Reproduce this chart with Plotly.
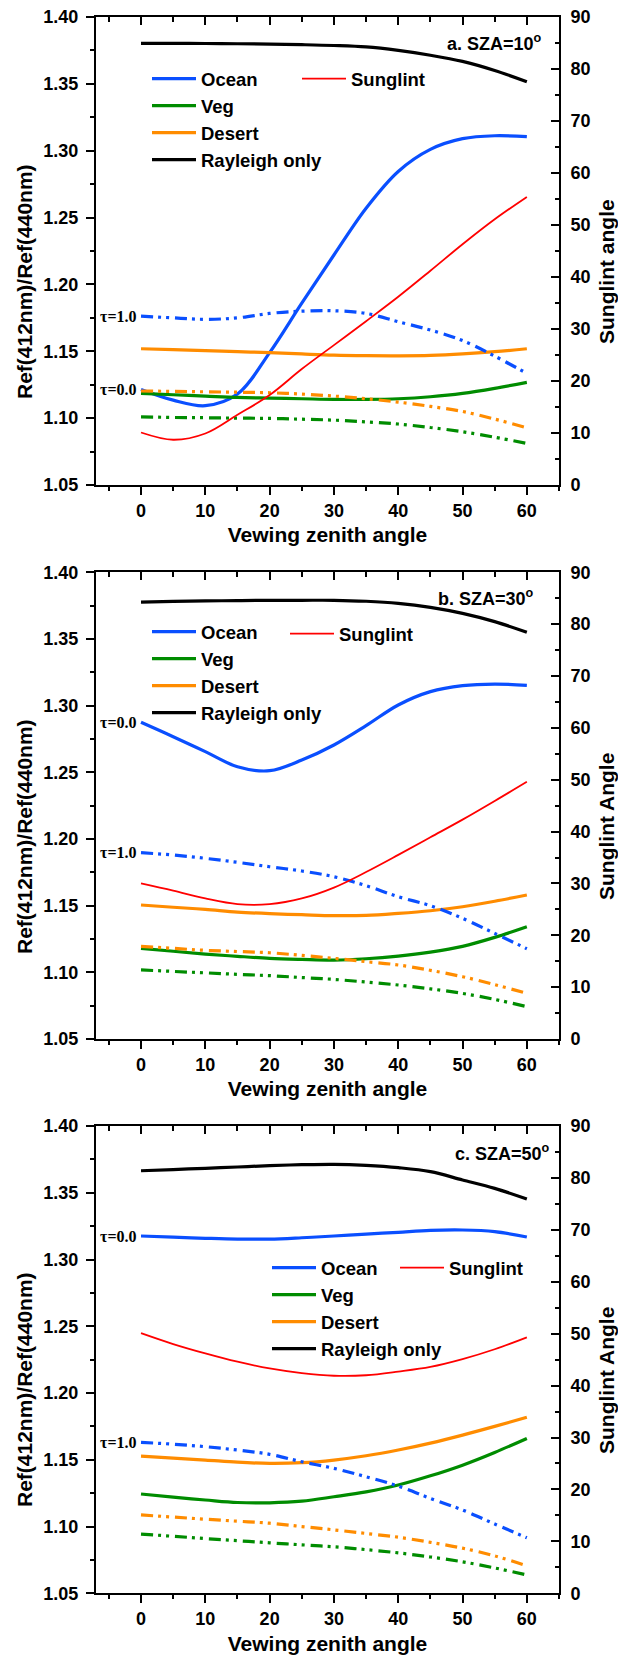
import plotly.graph_objects as go

# Viewing zenith angles (deg)
vza = [0, 5, 10, 15, 20, 25, 30, 35, 40, 45, 50, 55, 60]

# ---- a. SZA = 10 deg ----
a_rayleigh = [1.3803, 1.3803, 1.3802, 1.3800, 1.3797, 1.3793, 1.3787, 1.3776, 1.3750, 1.3714, 1.3668, 1.3600, 1.3516]
a_ocean_t0 = [1.1215, 1.1135, 1.1093, 1.1180, 1.1490, 1.1860, 1.2220, 1.2570, 1.2845, 1.3010, 1.3090, 1.3112, 1.3105]
a_ocean_t1 = [1.1763, 1.1750, 1.1739, 1.1750, 1.1783, 1.1800, 1.1803, 1.1783, 1.1721, 1.1659, 1.1580, 1.1464, 1.1335]
a_veg_t0 = [1.1185, 1.1175, 1.1165, 1.1155, 1.1150, 1.1145, 1.1140, 1.1140, 1.1145, 1.1160, 1.1185, 1.1223, 1.1268]
a_veg_t1 = [1.1010, 1.1005, 1.1003, 1.1000, 1.0998, 1.0992, 1.0985, 1.0972, 1.0956, 1.0930, 1.0898, 1.0857, 1.0811]
a_desert_t0 = [1.1519, 1.1512, 1.1505, 1.1497, 1.1490, 1.1480, 1.1471, 1.1467, 1.1466, 1.1469, 1.1480, 1.1497, 1.1519]
a_desert_t1 = [1.1203, 1.1200, 1.1197, 1.1194, 1.1190, 1.1180, 1.1165, 1.1145, 1.1120, 1.1088, 1.1050, 1.0993, 1.0928]
a_glint = [10.1, 8.7, 9.9, 13.5, 17.3, 22.3, 26.9, 31.5, 36.2, 41.2, 46.3, 51.1, 55.4]

# ---- b. SZA = 30 deg ----
b_rayleigh = [1.3777, 1.3782, 1.3785, 1.3788, 1.3790, 1.3790, 1.3790, 1.3783, 1.3767, 1.3737, 1.3692, 1.3630, 1.3550]
b_ocean_t0 = [1.2875, 1.2767, 1.2655, 1.2542, 1.2512, 1.2592, 1.2705, 1.2850, 1.3005, 1.3105, 1.3150, 1.3162, 1.3152]
b_ocean_t1 = [1.1897, 1.1880, 1.1855, 1.1825, 1.1792, 1.1760, 1.1717, 1.1650, 1.1567, 1.1500, 1.1405, 1.1292, 1.1177]
b_veg_t0 = [1.1180, 1.1158, 1.1137, 1.1120, 1.1105, 1.1097, 1.1092, 1.1102, 1.1122, 1.1152, 1.1195, 1.1262, 1.1342]
b_veg_t1 = [1.1018, 1.1007, 1.0996, 1.0985, 1.0975, 1.0961, 1.0947, 1.0927, 1.0905, 1.0876, 1.0842, 1.0797, 1.0742]
b_desert_t0 = [1.1505, 1.1488, 1.1472, 1.1452, 1.1440, 1.1432, 1.1425, 1.1427, 1.1442, 1.1462, 1.1492, 1.1533, 1.1580]
b_desert_t1 = [1.1195, 1.1180, 1.1165, 1.1156, 1.1147, 1.1127, 1.1105, 1.1080, 1.1055, 1.1015, 1.0967, 1.0908, 1.0842]
b_glint = [30.0, 28.6, 27.1, 26.0, 26.0, 27.1, 29.2, 32.2, 35.5, 38.9, 42.3, 45.9, 49.6]

# ---- c. SZA = 50 deg ----
c_rayleigh = [1.3665, 1.3674, 1.3683, 1.3693, 1.3703, 1.3710, 1.3713, 1.3705, 1.3688, 1.3658, 1.3596, 1.3533, 1.3453]
c_ocean_t0 = [1.3176, 1.3167, 1.3159, 1.3153, 1.3153, 1.3163, 1.3176, 1.3190, 1.3204, 1.3218, 1.3221, 1.3209, 1.3169]
c_ocean_t1 = [1.1630, 1.1617, 1.1598, 1.1573, 1.1541, 1.1485, 1.1436, 1.1373, 1.1303, 1.1211, 1.1124, 1.1019, 1.0916]
c_veg_t0 = [1.1244, 1.1220, 1.1199, 1.1180, 1.1178, 1.1190, 1.1223, 1.1260, 1.1311, 1.1380, 1.1460, 1.1555, 1.1660]
c_veg_t1 = [1.0943, 1.0927, 1.0910, 1.0894, 1.0878, 1.0863, 1.0848, 1.0827, 1.0803, 1.0772, 1.0736, 1.0690, 1.0637]
c_desert_t0 = [1.1528, 1.1512, 1.1498, 1.1482, 1.1473, 1.1478, 1.1498, 1.1530, 1.1573, 1.1625, 1.1685, 1.1750, 1.1818]
c_desert_t1 = [1.1087, 1.1071, 1.1055, 1.1040, 1.1025, 1.1000, 1.0975, 1.0948, 1.0920, 1.0882, 1.0838, 1.0780, 1.0706]
c_glint = [50.1, 48.0, 46.2, 44.6, 43.3, 42.4, 41.9, 42.0, 42.7, 43.6, 45.1, 47.0, 49.3]

panel_labels = ["a. SZA=10<sup>o</sup>", "b. SZA=30<sup>o</sup>", "c. SZA=50<sup>o</sup>"]
right_titles = ["Sunglint angle", "Sunglint Angle", "Sunglint Angle"]
left_title = "Ref(412nm)/Ref(440nm)"
x_title = "Vewing zenith angle"
legend_names = ["Ocean", "Veg", "Desert", "Rayleigh only", "Sunglint"]
tau_labels = ["\u03c4=0.0", "\u03c4=1.0"]

panels = [
    dict(ray=a_rayleigh, o0=a_ocean_t0, o1=a_ocean_t1, v0=a_veg_t0, v1=a_veg_t1,
         d0=a_desert_t0, d1=a_desert_t1, g=a_glint),
    dict(ray=b_rayleigh, o0=b_ocean_t0, o1=b_ocean_t1, v0=b_veg_t0, v1=b_veg_t1,
         d0=b_desert_t0, d1=b_desert_t1, g=b_glint),
    dict(ray=c_rayleigh, o0=c_ocean_t0, o1=c_ocean_t1, v0=c_veg_t0, v1=c_veg_t1,
         d0=c_desert_t0, d1=c_desert_t1, g=c_glint),
]

W, H = 618, 1655
BLUE, GREEN, ORANGE, RED, BLACK = "#0a4fff", "#008c00", "#ff8c00", "#ff0000", "#000000"
DASHDOTDOT = "12px,5px,3px,5px,3px,6px"
SANS = "Liberation Sans, Arial, sans-serif"
SERIF = "Liberation Serif, Times New Roman, serif"

def px_x(p):
    return p / W

def px_y(p):
    return 1 - p / H

# pixel layout of each panel: (top, bottom) of plot area
rows_px = [(17, 485), (572.3, 1039), (1126, 1593.3)]
x_dom = [px_x(96), px_x(559)]

# legend placement (pixels): main block left/top, sunglint left/top
legend_px = [((147, 60), (297, 60)), ((147, 613), (285, 615)), ((267, 1249), (395, 1249))]
label_px = [(544, 42), (536, 597), (552, 1152)]
ytitle_px = [(282, 272), (837, 827), (1390, 1381)]

fig = go.Figure()
layout = dict(
    width=W, height=H, margin=dict(l=0, r=0, t=0, b=0, autoexpand=False),
    paper_bgcolor="white", plot_bgcolor="white", showlegend=True,
    font=dict(family=SANS, color="black"),
)
annotations = []

for i, p in enumerate(panels):
    n = 2 * i + 1
    xb, xt, yl, yr = f"x{n if n > 1 else ''}", f"x{n + 1}", f"y{n if n > 1 else ''}", f"y{n + 1}"
    lg_main = "legend" if i == 0 else f"legend{n}"
    lg_glint = f"legend{n + 1}"
    top, bot = rows_px[i]
    ydom = [px_y(bot), px_y(top)]

    def line(y, color, name=None, dash="solid", width=3.2, axis=yl, legend=lg_main):
        fig.add_trace(go.Scatter(
            x=vza, y=y, mode="lines", name=name or "",
            line=dict(color=color, width=width, dash=dash, shape="spline", smoothing=1.0),
            xaxis=xb, yaxis=axis, showlegend=name is not None, legend=legend,
            hoverinfo="skip",
        ))

    line(p["o0"], BLUE, legend_names[0])
    line(p["v0"], GREEN, legend_names[1])
    line(p["d0"], ORANGE, legend_names[2])
    line(p["ray"], BLACK, legend_names[3])
    line(p["o1"], BLUE, dash=DASHDOTDOT)
    line(p["v1"], GREEN, dash=DASHDOTDOT)
    line(p["d1"], ORANGE, dash=DASHDOTDOT)
    line(p["g"], RED, legend_names[4], width=1.8, axis=yr, legend=lg_glint)
    # empty trace so the mirrored top axis is drawn
    fig.add_trace(go.Scatter(x=[], y=[], xaxis=xt, yaxis=yl, showlegend=False, hoverinfo="skip"))

    tickfont = dict(family=SANS, size=18, weight="bold", color="black")
    key = lambda a: ("xaxis" if a[0] == "x" else "yaxis") + a[1:]
    layout[key(xb)] = dict(
        domain=x_dom, anchor=yl, range=[-7, 65], tick0=0, dtick=10, automargin=False,
        ticks="outside", ticklen=8, tickwidth=2, tickcolor="black",
        minor=dict(dtick=5, tick0=0, ticks="outside", ticklen=4, tickwidth=2, tickcolor="black"),
        showline=True, linewidth=2, linecolor="black", showgrid=False, zeroline=False,
        tickfont=tickfont,
        title=dict(text=x_title, font=dict(family=SANS, size=21, weight="bold"), standoff=8),
    )
    layout[key(xt)] = dict(
        overlaying=xb, anchor=yl, side="top", range=[-7, 65], tick0=0, dtick=10, automargin=False,
        ticks="inside", ticklen=8, tickwidth=2, tickcolor="black",
        minor=dict(dtick=5, tick0=0, ticks="inside", ticklen=5, tickwidth=2, tickcolor="black"),
        showline=True, linewidth=2, linecolor="black", showgrid=False, zeroline=False,
        showticklabels=False,
    )
    layout[key(yl)] = dict(
        domain=ydom, anchor=xb, range=[1.05, 1.40], tick0=1.05, dtick=0.05, tickformat=".2f",
        automargin=False,
        ticks="outside", ticklen=8, tickwidth=2, tickcolor="black",
        minor=dict(dtick=0.025, tick0=1.05, ticks="outside", ticklen=4, tickwidth=2, tickcolor="black"),
        showline=True, linewidth=2, linecolor="black", showgrid=False, zeroline=False,
        tickfont=tickfont, ticklabelstandoff=4,
    )
    layout[key(yr)] = dict(
        overlaying=yl, anchor=xb, side="right", range=[0, 90], tick0=0, dtick=10, automargin=False,
        ticks="inside", ticklen=8, tickwidth=2, tickcolor="black",
        minor=dict(dtick=5, tick0=0, ticks="inside", ticklen=4, tickwidth=2, tickcolor="black"),
        showline=True, linewidth=2, linecolor="black", showgrid=False, zeroline=False,
        tickfont=tickfont, ticklabelstandoff=6,
    )

    legend_style = dict(
        bgcolor="rgba(0,0,0,0)", borderwidth=0, xanchor="left", yanchor="top",
        font=dict(family=SANS, size=18.5, weight="bold", color="black"),
        itemwidth=44, tracegroupgap=0, itemclick=False, itemdoubleclick=False,
    )
    (mx, my), (gx, gy) = legend_px[i]
    layout[lg_main] = dict(legend_style, x=px_x(mx), y=px_y(my))
    layout[lg_glint] = dict(legend_style, x=px_x(gx), y=px_y(gy))

    lx, ly = label_px[i]
    annotations.append(dict(
        text=panel_labels[i], xref="paper", yref="paper", x=px_x(lx), y=px_y(ly),
        xanchor="right", yanchor="middle", showarrow=False,
        font=dict(family=SANS, size=18, weight="bold"),
    ))
    # optical depth tags at the start of the ocean curves
    for txt, series in zip(tau_labels, (p["o0"], p["o1"])):
        annotations.append(dict(
            text=txt, xref=xb, yref=yl, x=vza[0], y=series[0],
            xanchor="right", yanchor="middle", xshift=-2, showarrow=False,
            font=dict(family=SERIF, size=16, weight="bold", color="black"),
        ))
    lyc, ryc = ytitle_px[i]
    annotations.append(dict(
        text=left_title, xref="paper", yref="paper", x=px_x(24), y=px_y(lyc),
        xanchor="center", yanchor="middle", textangle=-90, showarrow=False,
        font=dict(family=SANS, size=21, weight="bold"),
    ))
    annotations.append(dict(
        text=right_titles[i], xref="paper", yref="paper", x=px_x(606), y=px_y(ryc),
        xanchor="center", yanchor="middle", textangle=-90, showarrow=False,
        font=dict(family=SANS, size=21, weight="bold"),
    ))

layout["annotations"] = annotations
fig.update_layout(**layout)
fig.write_html("out.html")
